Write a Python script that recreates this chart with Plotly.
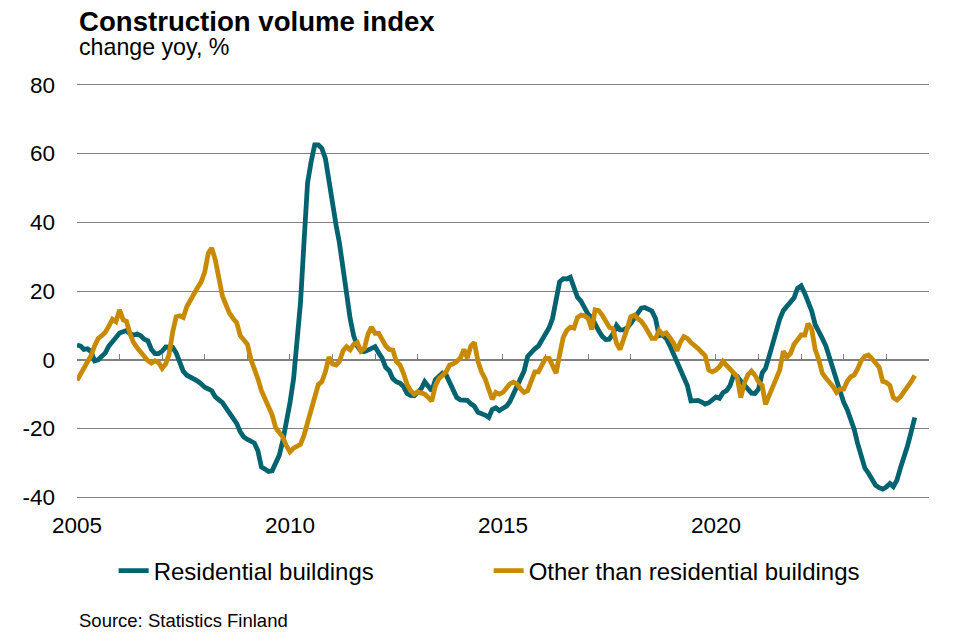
import pandas as pd
import plotly.graph_objects as go

# ---- data (monthly, % change yoy) ----
start_month = "2005-01-01"

residential = [
    4.3, 4.0, 3.0, 3.2, 2.4, -0.3, 0.0, 0.9, 2.0, 4.0, 5.5, 6.5,            # 2005
    7.8, 8.0, 8.5, 7.5, 7.2, 7.5, 7.0, 6.0, 5.5, 3.0, 1.8, 1.8,              # 2006
    2.5, 3.7, 3.8, 3.6, 2.0, -1.2, -3.3, -4.5, -5.0, -5.5, -6.2, -7.0,       # 2007
    -8.0, -8.5, -9.0, -10.8, -11.5, -12.5, -14.0, -15.6, -17.2, -18.5, -21.0, -22.5,  # 2008
    -23.2, -23.8, -24.2, -26.5, -31.2, -31.8, -32.5, -32.3, -30.0, -27.8, -23.5, -18.5,  # 2009
    -12.5, -5.5, 4.0, 16.5, 34.0, 51.5, 57.5, 62.5, 62.5, 61.5, 58.5, 52.0,  # 2010
    44.0, 39.0, 34.0, 26.5, 18.5, 12.0, 7.0, 4.0, 2.5, 2.4, 2.8, 3.5,        # 2011
    3.8, 2.0, 0.5, -2.2, -3.2, -5.5, -6.4, -6.8, -7.8, -9.8, -10.4, -10.5,   # 2012
    -9.3, -8.3, -6.4, -7.8, -9.0, -5.8, -4.6, -3.9, -4.4, -6.8, -9.3, -11.0, # 2013
    -11.7, -11.7, -11.8, -12.8, -13.5, -15.3, -15.6, -16.1, -16.8, -14.5, -14.0, -14.8,  # 2014
    -14.1, -13.5, -12.2, -10.0, -8.0, -5.5, -3.3, 1.0, 2.4, 3.2, 4.0, 5.6,   # 2015
    7.3, 9.3, 12.0, 18.5, 22.7, 23.6, 23.5, 24.0, 21.5, 18.2, 17.0, 15.4,    # 2016
    13.2, 12.3, 10.2, 8.4, 6.8, 5.9, 6.0, 7.5, 10.0, 8.7, 8.7, 9.3,          # 2017
    10.6, 12.0, 13.6, 15.0, 15.2, 14.5, 14.2, 12.0, 7.0, 7.2, 6.2, 4.2,      # 2018
    1.8, -1.0, -3.0, -5.2, -7.5, -12.0, -11.8, -11.8, -12.3, -12.9, -12.5, -11.8,  # 2019
    -10.8, -11.2, -9.6, -9.0, -7.5, -4.4, -4.8, -6.2, -7.4, -8.7, -9.7, -9.8,  # 2020
    -8.5, -3.8, -2.5, 1.0, 4.5, 8.6, 11.8, 14.3, 15.5, 16.5, 18.0, 20.8,     # 2021
    21.5, 19.3, 16.8, 14.2, 10.2, 7.8, 6.2, 4.0, 1.0, -2.6, -6.0, -9.5,      # 2022
    -12.4, -14.6, -17.2, -20.3, -24.5, -28.3, -31.5, -33.0, -34.5, -36.5, -37.2, -37.6,  # 2023
    -37.0, -36.0, -36.9, -35.0, -31.5, -28.6, -25.0, -21.0, -16.8,           # 2024
]

other = [
    -6.0, -4.0, -2.5, -0.5, 1.2, 4.0, 6.2, 7.0, 8.0, 9.8, 11.8, 11.1,        # 2005
    14.5, 11.6, 11.2, 7.5, 5.0, 3.5, 2.1, 0.8, -0.3, -1.0, -0.3, -0.8,       # 2006
    -2.5, -1.2, 1.5, 8.0, 12.5, 12.8, 12.3, 15.5, 17.6, 19.0, 21.0, 22.6,    # 2007
    25.5, 31.0, 32.5, 29.0, 23.5, 18.5, 16.0, 13.5, 12.0, 10.8, 7.0, 5.5,    # 2008
    4.5, 0.0, -2.5, -5.5, -9.0, -11.5, -13.5, -16.0, -19.8, -21.2, -22.5, -25.0,  # 2009
    -26.8, -25.7, -25.0, -24.6, -22.0, -18.5, -14.8, -11.5, -7.2, -6.4, -3.5, 0.8,  # 2010
    -1.2, -1.5, -0.5, 2.6, 3.8, 2.9, 4.5, 5.0, 2.5, 3.3, 7.5, 9.5,           # 2011
    7.7, 7.7, 6.0, 4.0, 3.0, 2.8, -0.5, -1.5, -4.0, -7.2, -9.0, -10.0,       # 2012
    -9.3, -9.5, -10.0, -11.0, -12.0, -7.5, -5.5, -4.5, -3.5, -1.5, -1.2, -0.5,  # 2013
    0.5, 3.0, 0.5, 4.0, 5.0, -0.5, -3.5, -5.5, -8.3, -11.5, -9.5, -10.0,     # 2014
    -9.5, -8.4, -7.0, -6.5, -7.0, -8.5, -9.5, -9.0, -5.8, -3.5, -3.5, -1.3,  # 2015
    0.4, 0.4, -2.0, -3.9, 1.5, 6.5, 8.5, 9.5, 9.2, 12.3, 13.0, 12.8,         # 2016
    12.0, 8.8, 14.5, 14.3, 13.0, 11.0, 9.5, 9.0, 4.8, 3.0, 5.8, 9.0,         # 2017
    12.5, 13.0, 12.0, 11.2, 9.8, 7.8, 6.2, 6.2, 8.5, 7.4, 7.8, 6.5,          # 2018
    5.0, 2.6, 5.0, 6.7, 6.2, 5.0, 4.3, 3.3, 2.2, 1.2, -3.0, -3.5,            # 2019
    -3.0, -2.0, -0.5, -1.5, -2.6, -3.8, -5.0, -11.0, -6.8, -4.4, -3.3, -4.5, # 2020
    -6.5, -7.5, -13.0, -10.5, -7.5, -5.0, -3.0, 2.5, 0.8, 1.8, 4.5, 5.8,     # 2021
    7.2, 7.2, 10.5, 9.0, 3.0, 0.0, -3.9, -5.3, -6.5, -7.8, -9.5, -8.5,       # 2022
    -8.5, -6.2, -5.0, -4.4, -2.6, -0.2, 1.0, 1.4, 0.3, -0.8, -2.2, -6.3,     # 2023
    -6.6, -7.5, -11.0, -11.7, -10.8, -9.3, -8.0, -6.4, -4.6,                 # 2024
]

series_names = ["Residential buildings", "Other than residential buildings"]
series_colors = ["#00636F", "#C88A00"]

x_label_years = ["2005", "2010", "2015", "2020"]
y_tick_values = [-40, -20, 0, 20, 40, 60, 80]
y_tick_text = ["-40", "-20", "0", "20", "40", "60", "80"]
x_range = ["2005-01-01", "2025-01-01"]
y_range = [-40.5, 80.5]

months = pd.date_range(start_month, periods=len(residential), freq="MS")

FONT = "Liberation Sans, Arial, sans-serif"
GRID = "#808080"

fig = go.Figure()
fig.add_trace(go.Scatter(
    x=months, y=residential, name=series_names[0], mode="lines",
    line=dict(color=series_colors[0], width=4.8), xaxis="x", yaxis="y",
))
fig.add_trace(go.Scatter(
    x=months, y=other, name=series_names[1], mode="lines",
    line=dict(color=series_colors[1], width=4.8), xaxis="x2", yaxis="y",
))

zero_pos = (0 - y_range[0]) / (y_range[1] - y_range[0])

fig.update_layout(
    width=977, height=638,
    margin=dict(l=77.3, r=47.6, t=83.0, b=139.0),
    paper_bgcolor="white", plot_bgcolor="white",
    font=dict(family=FONT, color="black", size=22.5),
    showlegend=True,
    legend=dict(
        orientation="h", x=0.043, xanchor="left", y=-0.173, yanchor="middle",
        font=dict(family=FONT, size=24, color="black"),
        entrywidth=330, entrywidthmode="pixels",
        bgcolor="rgba(0,0,0,0)", traceorder="normal",
    ),
    xaxis=dict(
        type="date", range=x_range,
        tickvals=[f"{y}-01-01" for y in x_label_years], ticktext=x_label_years,
        showgrid=False, showline=False, zeroline=False, ticks="",
        ticklabelstandoff=10,
        tickfont=dict(family=FONT, size=22.5, color="black"),
        fixedrange=True,
    ),
    xaxis2=dict(
        type="date", range=x_range, overlaying="x", anchor="free",
        position=zero_pos, side="bottom",
        showline=True, linecolor=GRID, linewidth=1,
        ticks="inside", ticklen=6, tickcolor=GRID, tickwidth=1,
        dtick="M12", tick0="2005-01-01",
        showticklabels=False, showgrid=False, zeroline=False,
        layer="below traces", fixedrange=True,
    ),
    yaxis=dict(
        range=y_range, tickvals=y_tick_values, ticktext=y_tick_text,
        showgrid=True, gridcolor=GRID, gridwidth=1,
        zeroline=False, showline=False, ticks="",
        ticklabelstandoff=21,
        tickfont=dict(family=FONT, size=22.5, color="black"),
        fixedrange=True,
    ),
)

fig.add_annotation(
    text="<b>Construction volume index</b>", xref="paper", yref="paper",
    x=0, y=1.149, xanchor="left", yanchor="middle", showarrow=False,
    font=dict(family=FONT, size=27.6, color="black"),
)
fig.add_annotation(
    text="change yoy, %", xref="paper", yref="paper",
    x=0, y=1.086, xanchor="left", yanchor="middle", showarrow=False,
    font=dict(family=FONT, size=23.2, color="black"),
)
fig.add_annotation(
    text="Source: Statistics Finland", xref="paper", yref="paper",
    x=0, y=-0.292, xanchor="left", yanchor="middle", showarrow=False,
    font=dict(family=FONT, size=18.5, color="black"),
)

fig.write_html(
    "out.html",
    config={"displayModeBar": False},
    post_script="document.body.style.margin='0px';document.body.style.overflow='hidden';",
)
